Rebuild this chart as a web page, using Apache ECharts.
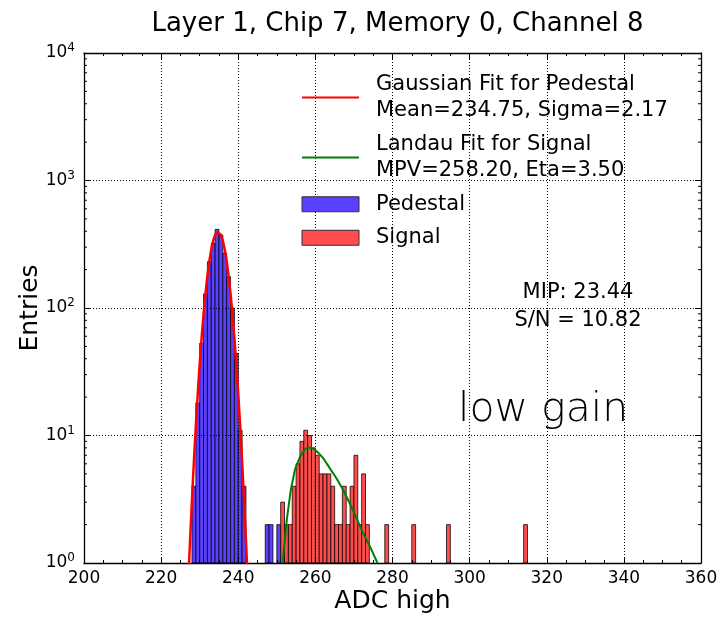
<!DOCTYPE html>
<html><head><meta charset="utf-8">
<script src="https://cdn.jsdelivr.net/npm/echarts@6/dist/echarts.min.js"></script>
<style>html,body{margin:0;padding:0;background:#fff}#c{width:718px;height:617px}</style>
</head><body><div id="c"></div>
<script>
const titleText = 'Layer 1, Chip 7, Memory 0, Channel 8';
const xName = 'ADC high';
const yName = 'Entries';
const xMin = 200, xMax = 360, xStep = 20;
const yMin = 1, yMax = 10000;

// histogram bins (left edge, width 1 ADC) and counts
const pedestalBins   = [228, 229, 230, 231, 232, 233, 234, 235, 236, 237, 238, 239, 240, 241, 247, 248, 250];
const pedestalCounts = [4, 18, 53, 129, 231, 322, 414, 374, 269, 176, 100, 44, 11, 4, 2, 2, 2];
const signalBins   = [251, 252, 253, 254, 255, 256, 257, 258, 259, 260, 261, 262, 263, 264, 265, 266, 267, 268, 269, 270, 271, 272, 273, 278, 285, 294, 314];
const signalCounts = [3, 2, 2, 4, 6, 9, 11, 10, 8, 7, 5, 5, 5, 4, 2, 2, 4, 2, 4, 7, 2, 5, 2, 2, 2, 2, 2];

// fit curves
const gaussX = [227.0, 227.5, 228.0, 228.5, 229.0, 229.5, 230.0, 230.5, 231.0, 231.5, 232.0, 232.5, 233.0, 233.5, 234.0, 234.5, 234.75, 235.0, 235.5, 236.0, 236.5, 237.0, 237.5, 238.0, 238.5, 239.0, 239.5, 240.0, 240.5, 241.0, 241.5, 242.0, 242.5];
const gaussY = [0.68, 1.5, 3.15, 6.3, 11.9, 21.3, 36.3, 58.4, 89.4, 129.6, 178.3, 232.5, 287.6, 337.1, 375, 395.4, 398, 395.4, 375, 337.1, 287.6, 232.5, 178.3, 129.6, 89.4, 58.4, 36.3, 21.3, 11.9, 6.3, 3.15, 1.5, 0.68];
const landauX = [251.5, 252.6, 253.6, 254.7, 256.0, 257.3, 258.2, 259.5, 260.8, 262.1, 263.8, 265.5, 267.3, 269.0, 270.7, 272.4, 274.2, 276.1];
const landauY = [1.0, 2.2, 3.7, 5.4, 6.8, 7.8, 8.05, 7.9, 7.3, 6.6, 5.5, 4.6, 3.7, 2.9, 2.24, 1.71, 1.34, 1.0];

const legendGauss = 'Gaussian Fit for Pedestal\nMean=234.75, Sigma=2.17';
const legendLandau = 'Landau Fit for Signal\nMPV=258.20, Eta=3.50';
const legendPed = 'Pedestal';
const legendSig = 'Signal';
const mipText = 'MIP: 23.44';
const snText = 'S/N = 10.82';
const gainText = 'low gain';

const FF = "'DejaVu Sans', sans-serif";
const pedColor = '#5a40ff', sigColor = '#ff4d4d';

const minorY = [];
for (let d = 1; d < yMax; d *= 10) for (let m = 2; m <= 9; m++) minorY.push([xMin, m * d]);

function barItem(fill) {
  return function (params, api) {
    const x0 = api.value(0), v = api.value(1);
    const p1 = api.coord([x0, v]);
    const p2 = api.coord([x0 + 1, yMin]);
    return { type: 'rect', shape: { x: p1[0], y: p1[1], width: p2[0] - p1[0], height: p2[1] - p1[1] },
      style: { fill: fill, stroke: 'rgba(0,0,0,0.75)', lineWidth: 1 } };
  };
}

const chart = echarts.init(document.getElementById('c'), null, { renderer: 'canvas' });
const axisCommon = {
  axisLine: { show: true, lineStyle: { color: '#000', width: 1.3 } },
  axisTick: { show: true, inside: true, length: 6, lineStyle: { color: '#000', width: 1 } }
};
chart.setOption({
  animation: false,
  backgroundColor: '#fff',
  title: { text: titleText, left: 392.5, top: 6, textAlign: 'center',
    textStyle: { fontSize: 26, fontWeight: 'normal', color: '#000', fontFamily: FF } },
  grid: { left: 84, top: 53, right: 17, bottom: 54, containLabel: false, outerBoundsMode: 'none' },
  legend: {
    orient: 'vertical', left: 301, top: 71, padding: 0, itemWidth: 57, itemHeight: 15, itemGap: 7,
    textStyle: { fontSize: 21, lineHeight: 26.5, color: '#000', fontFamily: FF, padding: [0, 0, 0, 12] },
    selectedMode: false,
    data: [
      { name: legendGauss, itemStyle: { opacity: 0 } },
      { name: legendLandau, itemStyle: { opacity: 0 } },
      { name: legendPed, icon: 'rect', itemStyle: { color: pedColor, borderColor: '#333', borderWidth: 1 } },
      { name: legendSig, icon: 'rect', itemStyle: { color: sigColor, borderColor: '#333', borderWidth: 1 } }
    ]
  },
  xAxis: [
    Object.assign({ type: 'value', min: xMin, max: xMax, interval: xStep, position: 'bottom', z: 3,
      minorTick: { show: true, splitNumber: 4, length: 3, lineStyle: { color: '#000' } },
      splitLine: { show: true, lineStyle: { color: '#000', type: [1, 2], width: 1 } },
      axisLabel: { fontSize: 17, color: '#000', margin: 7, fontFamily: FF },
      name: xName, nameLocation: 'middle', nameGap: 26, nameMoveOverlap: false,
      nameTextStyle: { fontSize: 25, color: '#000', fontFamily: FF } }, axisCommon),
    Object.assign({ type: 'value', min: xMin, max: xMax, interval: xStep, position: 'top', z: 3,
      minorTick: { show: true, splitNumber: 4, length: 3, lineStyle: { color: '#000' } },
      splitLine: { show: false }, axisLabel: { show: false } }, axisCommon)
  ],
  yAxis: [
    Object.assign({ type: 'log', logBase: 10, min: yMin, max: yMax, position: 'left', z: 3,
      splitLine: { show: true, lineStyle: { color: '#000', type: [1, 2], width: 1 } },
      axisLabel: { margin: 9, color: '#000', fontFamily: FF,
        formatter: function (v) { return '{b|10}{s|' + Math.round(Math.log10(v)) + '}'; },
        rich: { b: { fontSize: 17, fontFamily: FF, color: '#000' },
                s: { fontSize: 12, fontFamily: FF, color: '#000', padding: [0, 0, 10, 0] } } },
      name: yName, nameLocation: 'middle', nameGap: 41, nameMoveOverlap: false,
      nameTextStyle: { fontSize: 25, color: '#000', fontFamily: FF } }, axisCommon),
    Object.assign({ type: 'log', logBase: 10, min: yMin, max: yMax, position: 'right', z: 3,
      splitLine: { show: false }, axisLabel: { show: false } }, axisCommon)
  ],
  graphic: [
    { type: 'text', x: 578, y: 293, z: 10, style: { text: mipText, fontSize: 21, fontFamily: FF, fill: '#000', align: 'center', verticalAlign: 'middle' } },
    { type: 'text', x: 578, y: 321, z: 10, style: { text: snText, fontSize: 21, fontFamily: FF, fill: '#000', align: 'center', verticalAlign: 'middle' } },
    { type: 'text', x: 458, y: 410, z: 10, style: { text: gainText, fontSize: 41, fontFamily: "'DejaVu Sans ExtraLight', 'DejaVu Sans', sans-serif", fontWeight: 200, fill: '#000', align: 'left', verticalAlign: 'middle' } }
  ],
  series: [
    { name: legendPed, type: 'custom', renderItem: barItem(pedColor), encode: { x: 0, y: 1 }, z: 2,
      itemStyle: { color: pedColor, borderColor: '#333', borderWidth: 1 },
      data: pedestalBins.map((b, i) => [b, pedestalCounts[i]]) },
    { name: legendSig, type: 'custom', renderItem: barItem(sigColor), encode: { x: 0, y: 1 }, z: 2,
      itemStyle: { color: sigColor, borderColor: '#333', borderWidth: 1 },
      data: signalBins.map((b, i) => [b, signalCounts[i]]) },
    { name: legendGauss, type: 'line', symbol: 'none', showSymbol: false, z: 5, clip: true,
      lineStyle: { color: '#ff0000', width: 2.5 }, itemStyle: { color: '#ff0000' },
      data: gaussX.map((x, i) => [x, gaussY[i]]) },
    { name: legendLandau, type: 'line', symbol: 'none', showSymbol: false, z: 5, clip: true,
      lineStyle: { color: '#008000', width: 2 }, itemStyle: { color: '#008000' },
      data: landauX.map((x, i) => [x, landauY[i]]) },
    { name: 'minorTicksY', type: 'custom', z: 6, silent: true, encode: { x: 0, y: 1 },
      renderItem: function (params, api) {
        const v = api.value(1);
        const pl = api.coord([xMin, v]), pr = api.coord([xMax, v]);
        return { type: 'group', children: [
          { type: 'line', shape: { x1: pl[0], y1: pl[1], x2: pl[0] + 3, y2: pl[1] }, style: { stroke: '#000', lineWidth: 1 } },
          { type: 'line', shape: { x1: pr[0] - 3, y1: pr[1], x2: pr[0], y2: pr[1] }, style: { stroke: '#000', lineWidth: 1 } }
        ] };
      },
      data: minorY }
  ]
});
</script></body></html>
